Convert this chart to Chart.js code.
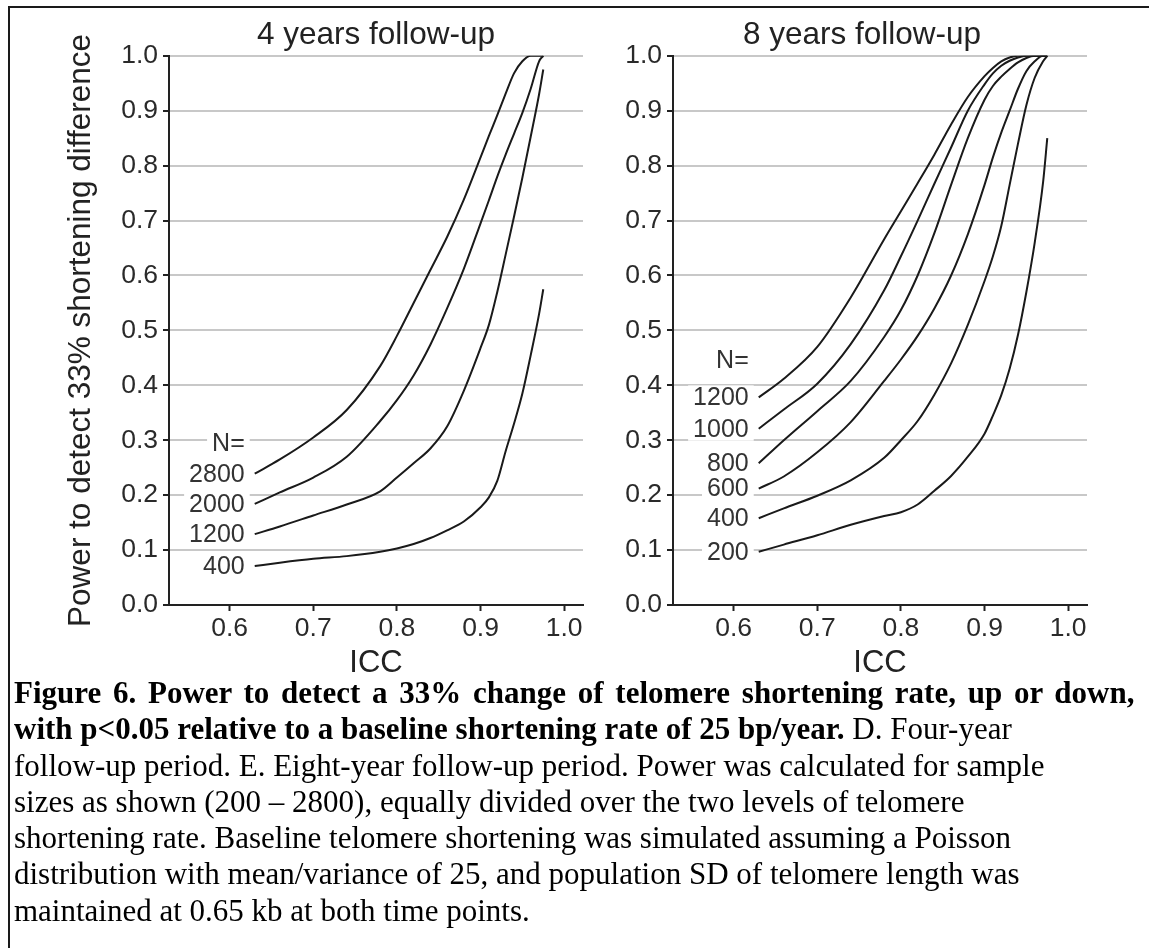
<!DOCTYPE html>
<html>
<head>
<meta charset="utf-8">
<script src="https://cdn.jsdelivr.net/npm/chart.js@4"></script>
<style>
  body { margin: 0; background: #fff; }
  #page { position: relative; width: 1149px; height: 948px; background: #fff; overflow: hidden; }
  #frame { position: absolute; left: 8px; top: 6px; width: 1200px; height: 1000px; border-left: 2px solid #1a1a1a; border-top: 2px solid #1a1a1a; }
  canvas { position: absolute; top: 0; }
  #c4 { left: 0; }
  #c8 { left: 520px; }
  #caption { position: absolute; left: 14px; top: 675px; font-family: 'Liberation Serif', 'Times New Roman', serif; font-size: 31px; line-height: 36.3px; color: #000; white-space: nowrap; }
  #caption .wide { word-spacing: 4px; }
</style>
</head>
<body>
<div id="page">
  <div id="frame"></div>
  <canvas id="c4" width="600" height="680"></canvas>
  <canvas id="c8" width="700" height="680"></canvas>
  <div id="caption">
    <div class="wide"><b>Figure 6. Power to detect a 33% change of telomere shortening rate, up or down,</b></div>
    <div><b>with p&lt;0.05 relative to a baseline shortening rate of 25 bp/year.</b> D. Four-year</div>
    <div>follow-up period. E. Eight-year follow-up period. Power was calculated for sample</div>
    <div>sizes as shown (200 – 2800), equally divided over the two levels of telomere</div>
    <div>shortening rate. Baseline telomere shortening was simulated assuming a Poisson</div>
    <div>distribution with mean/variance of 25, and population SD of telomere length was</div>
    <div>maintained at 0.65 kb at both time points.</div>
  </div>
</div>
<script>
// axis ticks
const iccTicks = [0.6, 0.7, 0.8, 0.9, 1.0];
const iccRange = [0.5275, 1.0225];

// ICC values the power was evaluated at
const icc = [0.63, 0.66, 0.70, 0.74, 0.78, 0.80, 0.82, 0.84, 0.86, 0.88, 0.90, 0.91, 0.92, 0.93, 0.94, 0.95, 0.96, 0.97, 0.975];

// 4 years follow-up
const sizes4 = ['2800', '2000', '1200', '400'];
const power4_n2800 = [0.239, 0.265, 0.305, 0.355, 0.435, 0.49, 0.55, 0.61, 0.67, 0.738, 0.815, 0.854, 0.892, 0.931, 0.968, 0.99, 1.0, 1.0, 1.0];
const power4_n2000 = [0.184, 0.205, 0.232, 0.27, 0.335, 0.373, 0.418, 0.474, 0.54, 0.612, 0.695, 0.737, 0.78, 0.82, 0.858, 0.896, 0.94, 0.99, 1.0];
const power4_n1200 = [0.129, 0.143, 0.163, 0.183, 0.207, 0.232, 0.258, 0.285, 0.325, 0.39, 0.468, 0.51, 0.57, 0.638, 0.707, 0.778, 0.853, 0.93, 0.975];
const power4_n400 = [0.071, 0.077, 0.084, 0.089, 0.097, 0.103, 0.111, 0.122, 0.136, 0.152, 0.178, 0.196, 0.226, 0.28, 0.33, 0.385, 0.455, 0.53, 0.575];
const nLabelPower4 = 0.295;

// 8 years follow-up
const sizes8 = ['1200', '1000', '800', '600', '400', '200'];
const power8_n1200 = [0.378, 0.412, 0.47, 0.56, 0.666, 0.717, 0.768, 0.82, 0.875, 0.925, 0.963, 0.978, 0.99, 0.997, 1.0, 1.0, 1.0, 1.0, 1.0];
const power8_n1000 = [0.321, 0.356, 0.403, 0.475, 0.573, 0.635, 0.7, 0.767, 0.833, 0.9, 0.948, 0.968, 0.982, 0.991, 0.997, 1.0, 1.0, 1.0, 1.0];
const power8_n800 = [0.258, 0.3, 0.353, 0.408, 0.488, 0.537, 0.6, 0.677, 0.765, 0.85, 0.92, 0.945, 0.962, 0.976, 0.988, 0.996, 1.0, 1.0, 1.0];
const power8_n600 = [0.212, 0.234, 0.278, 0.333, 0.408, 0.447, 0.49, 0.54, 0.6, 0.675, 0.765, 0.815, 0.86, 0.9, 0.94, 0.972, 0.99, 1.0, 1.0];
const power8_n400 = [0.158, 0.176, 0.199, 0.227, 0.268, 0.3, 0.335, 0.383, 0.44, 0.51, 0.59, 0.635, 0.69, 0.765, 0.84, 0.91, 0.96, 0.99, 1.0];
const power8_n200 = [0.097, 0.11, 0.127, 0.146, 0.162, 0.169, 0.183, 0.208, 0.235, 0.27, 0.312, 0.345, 0.382, 0.43, 0.492, 0.57, 0.66, 0.77, 0.85];
const nLabelPower8 = 0.445;

const SANS = "'Liberation Sans', Arial, Helvetica, sans-serif";
const INK = '#222';

// sample size labels left of each curve start, with a white box over the gridlines
const sizeLabels = {
  id: 'sizeLabels',
  afterDatasetsDraw(chart, args, opts) {
    const { ctx, scales: { x, y } } = chart;
    ctx.save();
    ctx.font = '25px ' + SANS;
    ctx.textAlign = 'right';
    ctx.textBaseline = 'middle';
    const put = (text, px, py) => {
      const w = ctx.measureText(text).width;
      ctx.fillStyle = '#fff';
      ctx.fillRect(px - w - 5, py - 12, w + 10, 24);
      ctx.fillStyle = '#333';
      ctx.fillText(text, px, py + 1);
    };
    const px = x.getPixelForValue(icc[0]) - 10;
    chart.data.datasets.forEach(ds => put(ds.label, px, y.getPixelForValue(ds.data[0].y)));
    put('N=', px, y.getPixelForValue(opts.nPower));
    ctx.restore();
  }
};

function makePanel(id, title, sizes, series, nPower, cfg) {
  const scales = {
    x: {
      type: 'linear', min: iccRange[0], max: iccRange[1],
      afterBuildTicks: s => { s.ticks = iccTicks.map(v => ({ value: v })); },
      afterFit: s => { s.height = 75; },
      ticks: { callback: v => v.toFixed(1), color: '#2a2a2a', font: { family: SANS, size: 26.5 }, padding: 2, maxRotation: 0 },
      grid: { drawOnChartArea: false, drawTicks: true, tickLength: 6, tickColor: INK, tickWidth: 2 },
      border: { color: INK, width: 2 },
      title: { display: true, text: 'ICC', color: INK, font: { family: SANS, size: 31 }, padding: { top: 0, bottom: -2 } },
    },
    y: {
      min: 0, max: 1,
      afterFit: s => { s.width = cfg.yWidth; },
      ticks: { stepSize: 0.1, callback: v => v.toFixed(1), color: '#2a2a2a', font: { family: SANS, size: 26.5 }, padding: 5 },
      grid: { color: '#c8c8c8', lineWidth: 2, tickLength: 6, tickColor: INK, tickWidth: 2 },
      border: { color: INK, width: 2 },
      title: { display: !!cfg.yTitle, text: cfg.yTitle || '', color: INK, font: { family: SANS, size: 31.5 }, padding: { top: 62, bottom: 0 } },
    },
  };
  if (cfg.rightGap) {
    // empty box on the right so the panel title sits where the original has it
    scales.gap = {
      type: 'linear', axis: 'y', position: 'right', display: true,
      afterFit: s => { s.width = cfg.rightGap; },
      ticks: { display: false }, grid: { display: false }, border: { display: false },
    };
  }
  return new Chart(document.getElementById(id), {
    type: 'line',
    data: {
      datasets: series.map((vals, i) => ({
        label: sizes[i],
        data: vals.map((v, j) => ({ x: icc[j], y: v })),
        xAxisID: 'x', yAxisID: 'y',
        borderColor: '#1a1a1a',
        borderWidth: 2,
        pointRadius: 0,
        cubicInterpolationMode: 'monotone',
        fill: false,
      })),
    },
    options: {
      responsive: false,
      animation: false,
      layout: { padding: { left: 0, right: cfg.padRight, top: 0, bottom: 0 } },
      plugins: {
        legend: { display: false },
        tooltip: { enabled: false },
        title: {
          display: true, text: title, color: INK, fullSize: cfg.titleFull,
          font: { family: SANS, size: 31.5, weight: 'normal' },
          padding: { top: 16, bottom: 2 },
        },
        sizeLabels: { nPower },
      },
      scales,
    },
    plugins: [sizeLabels],
  });
}

makePanel('c4', '4 years follow-up', sizes4,
  [power4_n2800, power4_n2000, power4_n1200, power4_n400], nLabelPower4,
  { padRight: 17, yWidth: 169, titleFull: false, yTitle: 'Power to detect 33% shortening difference' });

makePanel('c8', '8 years follow-up', sizes8,
  [power8_n1200, power8_n1000, power8_n800, power8_n600, power8_n400, power8_n200], nLabelPower8,
  { padRight: 16, yWidth: 153, rightGap: 117, titleFull: true });
</script>
</body>
</html>
